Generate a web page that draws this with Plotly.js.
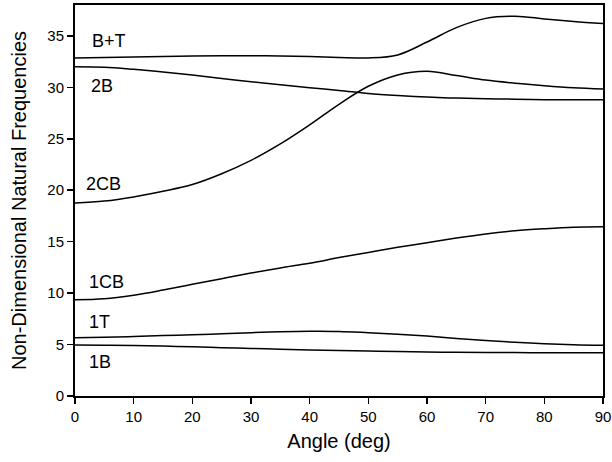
<!DOCTYPE html>
<html>
<head>
<meta charset="utf-8">
<script src="https://cdn.plot.ly/plotly-3.0.1.min.js"></script>
<style>html,body{margin:0;padding:0;background:#fff;}#chart{width:612px;height:462px;}</style>
</head>
<body>
<div id="chart"></div>
<script>
const angle = [0,5,10,15,20,25,30,35,40,45,50,55,60,65,70,75,80,85,90];
const modeBT  = [32.85,32.9,32.95,33.0,33.05,33.07,33.07,33.05,33.0,32.9,32.85,33.15,34.4,35.8,36.7,36.9,36.65,36.4,36.2];
const mode2B  = [32.0,31.95,31.75,31.5,31.2,30.85,30.55,30.25,29.95,29.7,29.4,29.2,29.05,28.95,28.9,28.85,28.8,28.8,28.8];
const mode2CB = [18.76,18.95,19.35,19.9,20.55,21.6,22.9,24.5,26.35,28.35,30.1,31.2,31.55,31.15,30.7,30.4,30.15,29.95,29.83];
const mode1CB = [9.35,9.45,9.8,10.3,10.85,11.4,11.95,12.45,12.9,13.45,13.95,14.45,14.9,15.35,15.75,16.05,16.25,16.4,16.45];
const mode1T  = [5.65,5.7,5.78,5.87,5.95,6.05,6.15,6.25,6.3,6.28,6.15,6.0,5.82,5.6,5.4,5.22,5.08,4.98,4.93];
const mode1B  = [4.95,4.93,4.9,4.85,4.78,4.7,4.62,4.55,4.48,4.42,4.37,4.32,4.28,4.25,4.23,4.22,4.21,4.21,4.21];

const labelText = ["B+T","2B","2CB","1CB","1T","1B"];
const labelX = [5.8,4.6,4.9,5.3,4.1,4.3];
const labelY = [34.5,30.1,20.6,11.1,7.2,3.3];

const series = [modeBT, mode2B, mode2CB, mode1CB, mode1T, mode1B];
const FONT = "Liberation Sans, Arial, Helvetica, sans-serif";

const traces = series.map((ys, i) => ({
  x: angle, y: ys, type: "scatter", mode: "lines",
  line: {color: "#000", width: 1.5, shape: "spline", smoothing: 1},
  name: labelText[i], showlegend: false, hoverinfo: "skip"
}));

const annotations = labelText.map((t, i) => ({
  x: labelX[i], y: labelY[i], xref: "x", yref: "y", text: t,
  showarrow: false, font: {family: FONT, size: 18, color: "#000"},
  xanchor: "center", yanchor: "middle"
}));

const layout = {
  width: 612, height: 462,
  margin: {l: 75, r: 9, t: 5, b: 66},
  paper_bgcolor: "#fff", plot_bgcolor: "#fff",
  showlegend: false,
  annotations: annotations,
  xaxis: {
    range: [0, 90], tickvals: [0,10,20,30,40,50,60,70,80,90],
    ticks: "outside", ticklen: 6, tickwidth: 1.5, tickcolor: "#000",
    showgrid: false, zeroline: false,
    showline: true, linecolor: "#000", linewidth: 2, mirror: true,
    tickfont: {family: FONT, size: 15, color: "#000"},
    title: {text: "Angle (deg)", font: {family: FONT, size: 20, color: "#000"}, standoff: 10}
  },
  yaxis: {
    range: [0, 38], tickvals: [0,5,10,15,20,25,30,35],
    ticks: "outside", ticklen: 6, tickwidth: 1.5, tickcolor: "#000",
    showgrid: false, zeroline: false,
    showline: true, linecolor: "#000", linewidth: 2, mirror: true,
    tickfont: {family: FONT, size: 15, color: "#000"},
    title: {text: "Non-Dimensional Natural Frequencies", font: {family: FONT, size: 20, color: "#000"}, standoff: 15}
  }
};

Plotly.newPlot("chart", traces, layout, {staticPlot: true, displayModeBar: false});
</script>
</body>
</html>
